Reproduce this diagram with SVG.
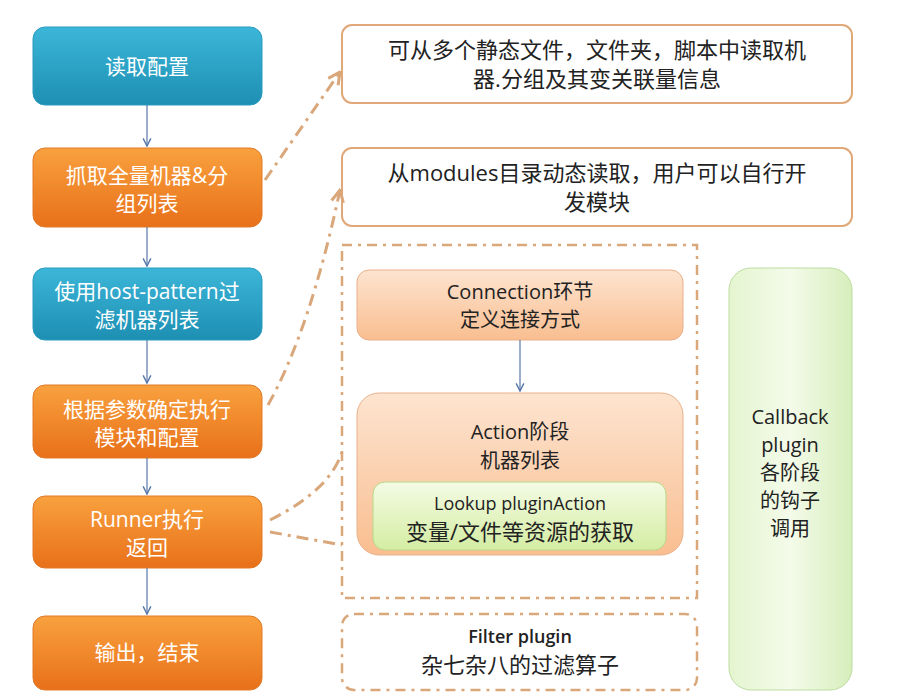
<svg xmlns="http://www.w3.org/2000/svg" width="898" height="697" viewBox="0 0 898 697">
<defs>
<linearGradient id="gb" x1="0" y1="0" x2="0" y2="1"><stop offset="0" stop-color="#3cb6d8"/><stop offset="1" stop-color="#1d8fb3"/></linearGradient>
<linearGradient id="go" x1="0" y1="0" x2="0" y2="1"><stop offset="0" stop-color="#f9a13e"/><stop offset="1" stop-color="#e8701a"/></linearGradient>
<linearGradient id="gp" x1="0" y1="0" x2="0" y2="1"><stop offset="0" stop-color="#fde4d0"/><stop offset="1" stop-color="#f9be90"/></linearGradient>
<linearGradient id="gg" x1="0" y1="0" x2="0" y2="1"><stop offset="0" stop-color="#f4fbe4"/><stop offset="1" stop-color="#d4eda3"/></linearGradient>
<linearGradient id="gc" x1="0" y1="0" x2="1" y2="0"><stop offset="0" stop-color="#e4f5cf"/><stop offset="0.5" stop-color="#f4fbea"/><stop offset="1" stop-color="#d6eebb"/></linearGradient>
<marker id="ab" viewBox="0 0 10 10" refX="9" refY="5" markerWidth="8" markerHeight="8" orient="auto"><path d="M1,1 L9,5 L1,9" fill="none" stroke="#5878a8" stroke-width="1.5"/></marker>
<marker id="ao" viewBox="0 0 10 10" refX="9" refY="5" markerWidth="5" markerHeight="5" orient="auto"><path d="M1,1 L9,5 L1,9" fill="none" stroke="#d9a77a" stroke-width="2"/></marker>
</defs>
<style>
text{font-family:"Open Sans","Noto Sans CJK SC",sans-serif;text-anchor:middle}
.w{fill:#fff;font-size:21px}
.k{fill:#222;font-size:20px}
.t{fill:#222;font-size:22px}
.ar{stroke:#5878a8;stroke-width:1.2}
.dd{fill:none;stroke:#d9a77a;stroke-width:3;stroke-dasharray:12 6 3 6}
.dd2{fill:none;stroke:#d9a77a;stroke-width:2.5;stroke-dasharray:10 6 3 6}
</style>
<rect width="898" height="697" fill="#fff"/>
<g id="n1"><rect x="33" y="27" width="229" height="78" rx="12" fill="url(#gb)" stroke="#2a9bc0"/><text class="w" x="147" y="74">读取配置</text></g>
<g id="n2"><rect x="33" y="148" width="229" height="79" rx="12" fill="url(#go)" stroke="#e07a2a"/><text class="w" x="147" y="183">抓取全量机器&amp;分</text><text class="w" x="147" y="211">组列表</text></g>
<g id="n3"><rect x="33" y="268" width="229" height="72" rx="12" fill="url(#gb)" stroke="#2a9bc0"/><text class="w" x="147" y="299">使用host-pattern过</text><text class="w" x="147" y="327">滤机器列表</text></g>
<g id="n4"><rect x="33" y="385" width="229" height="73" rx="12" fill="url(#go)" stroke="#e07a2a"/><text class="w" x="147" y="417">根据参数确定执行</text><text class="w" x="147" y="445">模块和配置</text></g>
<g id="n5"><rect x="33" y="496" width="229" height="72" rx="12" fill="url(#go)" stroke="#e07a2a"/><text class="w" x="147" y="527">Runner执行</text><text class="w" x="147" y="555">返回</text></g>
<g id="n6"><rect x="33" y="616" width="229" height="74" rx="12" fill="url(#go)" stroke="#e07a2a"/><text class="w" x="147" y="660">输出，结束</text></g>
<g id="r1"><rect x="342" y="25" width="510" height="78" rx="10" fill="#fff" stroke="#e0a878" stroke-width="2"/><text class="t" x="597" y="58">可从多个静态文件，文件夹，脚本中读取机</text><text class="t" x="597" y="87">器.分组及其变关联量信息</text></g>
<g id="r2"><rect x="342" y="148" width="510" height="78" rx="10" fill="#fff" stroke="#e0a878" stroke-width="2"/><text class="t" x="597" y="181">从modules目录动态读取，用户可以自行开</text><text class="t" x="597" y="210">发模块</text></g>
<g id="grp"><rect x="342" y="245" width="355" height="353" class="dd2"/></g>
<g id="conn"><rect x="357" y="270" width="326" height="70" rx="12" fill="url(#gp)" stroke="#e8b08a"/><text class="k" x="520" y="299">Connection环节</text><text class="k" x="520" y="327">定义连接方式</text></g>
<g id="act"><rect x="357" y="393" width="326" height="162" rx="22" fill="url(#gp)" stroke="#e8b08a"/><text class="k" x="520" y="439">Action阶段</text><text class="k" x="520" y="468">机器列表</text></g>
<g id="look"><rect x="373" y="482" width="293" height="68" rx="12" fill="url(#gg)" stroke="#b8d888"/><text class="k" x="520" y="510" style="font-size:18px">Lookup pluginAction</text><text class="t" x="520" y="540">变量/文件等资源的获取</text></g>
<g id="filt"><rect x="342" y="614" width="355" height="76" rx="12" class="dd2"/><text class="k" x="520" y="643" style="font-size:18px;font-weight:600">Filter plugin</text><text class="t" x="520" y="673">杂七杂八的过滤算子</text></g>
<g id="cb"><rect x="729" y="268" width="123" height="422" rx="22" fill="url(#gc)" stroke="#bcdca0"/><text class="k" x="790" y="424">Callback</text><text class="k" x="790" y="452">plugin</text><text class="k" x="790" y="480">各阶段</text><text class="k" x="790" y="508">的钩子</text><text class="k" x="790" y="536">调用</text></g>
<g id="edges">
<line class="ar" x1="147" y1="105" x2="147" y2="146" marker-end="url(#ab)"/>
<line class="ar" x1="147" y1="227" x2="147" y2="266" marker-end="url(#ab)"/>
<line class="ar" x1="147" y1="340" x2="147" y2="383" marker-end="url(#ab)"/>
<line class="ar" x1="147" y1="458" x2="147" y2="494" marker-end="url(#ab)"/>
<line class="ar" x1="147" y1="568" x2="147" y2="614" marker-end="url(#ab)"/>
<line class="ar" x1="520" y1="340" x2="520" y2="391" marker-end="url(#ab)"/>
<path class="dd" d="M265,180 L340,72" marker-end="url(#ao)"/>
<path class="dd" d="M268,405 Q310,330 340,190" marker-end="url(#ao)"/>
<path class="dd" d="M270,520 Q330,490 342,452"/>
<path class="dd" d="M270,532 L342,545"/>
</g>
</svg>
